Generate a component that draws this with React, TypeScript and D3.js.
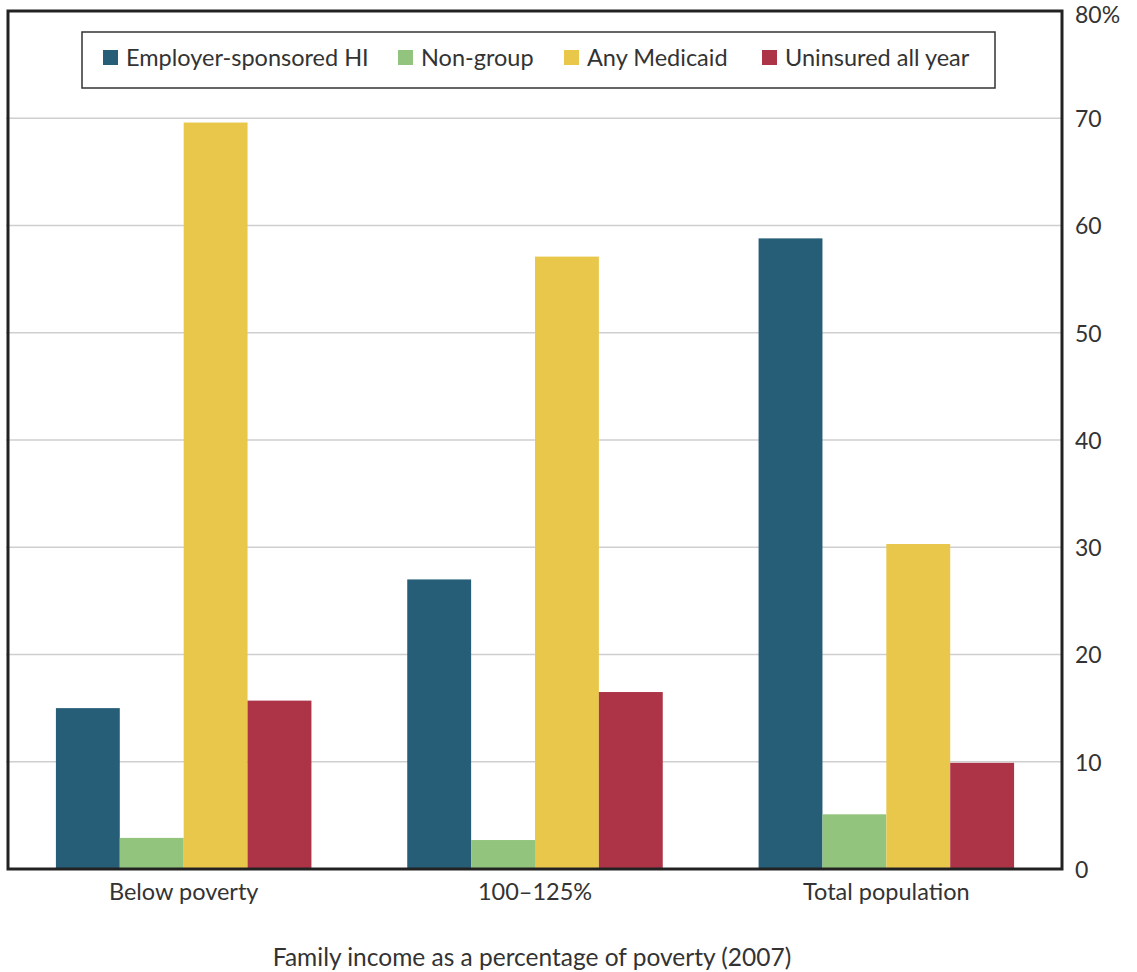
import React from "react";
import * as d3 from "d3";

const categories = ["Below poverty", "100–125%", "Total population"];
const seriesNames = ["Employer-sponsored HI", "Non-group", "Any Medicaid", "Uninsured all year"];
const employer = [15.0, 27.0, 58.8];
const nonGroup = [2.9, 2.7, 5.1];
const medicaid = [69.6, 57.1, 30.3];
const uninsured = [15.7, 16.5, 9.9];
const yTicks = [0, 10, 20, 30, 40, 50, 60, 70, 80];
const xTitle = "Family income as a percentage of poverty (2007)";

const colors = ["#265e78", "#93c47d", "#e9c74b", "#ad3346"];
const FONT = "Lato, 'Open Sans', sans-serif";

export default function App() {
  const width = 1137;
  const height = 972;
  const left = 8;
  const right = 1062;
  const top = 11;
  const bottom = 869;

  const series = [employer, nonGroup, medicaid, uninsured];

  const x0 = d3
    .scaleBand<string>()
    .domain(categories)
    .range([left, right])
    .paddingInner(3 / 11)
    .paddingOuter(1.5 / 11);
  const x1 = d3
    .scaleBand<string>()
    .domain(seriesNames)
    .range([0, x0.bandwidth()])
    .padding(0);
  const y = d3.scaleLinear().domain([0, 80]).range([bottom, top]);

  const legendX = [103, 398, 564, 762];

  return (
    <svg
      width={width}
      height={height}
      style={{ position: "absolute", left: 0, top: 0, background: "#fff" }}
      fontFamily={FONT}
    >
      <rect x={0} y={0} width={width} height={height} fill="#fff" />
      {/* gridlines */}
      {yTicks
        .filter((t) => t > 0 && t < 80)
        .map((t) => (
          <line
            key={t}
            x1={left - 2}
            x2={right}
            y1={y(t)}
            y2={y(t)}
            stroke="#cfcfcf"
            strokeWidth={1.5}
          />
        ))}
      {/* bars */}
      {categories.map((c, ci) => (
        <g key={c} transform={`translate(${x0(c)},0)`}>
          {seriesNames.map((s, si) => (
            <rect
              key={s}
              x={x1(s)!}
              y={y(series[si][ci])}
              width={x1.bandwidth()}
              height={bottom - y(series[si][ci])}
              fill={colors[si]}
            />
          ))}
        </g>
      ))}
      {/* frame */}
      <rect
        x={left}
        y={top}
        width={right - left}
        height={bottom - top}
        fill="none"
        stroke="#222"
        strokeWidth={3}
      />
      {/* y tick labels */}
      {yTicks.map((t) => (
        <text
          key={t}
          x={1075}
          y={y(t) + (t === 80 ? 6 : 3)}
          dominantBaseline="middle"
          fontSize={23}
          fill="#333"
        >
          {t === 80 ? "80%" : String(t)}
        </text>
      ))}
      {/* category labels */}
      {categories.map((c) => (
        <text
          key={c}
          x={x0(c)! + x0.bandwidth() / 2}
          y={900}
          textAnchor="middle"
          fontSize={23.5}
          fill="#333"
        >
          {c}
        </text>
      ))}
      <text x={532} y={966} textAnchor="middle" fontSize={24.5} fill="#333">
        {xTitle}
      </text>
      {/* legend */}
      <rect x={82} y={32} width={913} height={56} fill="#fff" stroke="#333" strokeWidth={1.5} />
      {seriesNames.map((s, i) => (
        <g key={s}>
          <rect x={legendX[i]} y={50} width={15} height={15} fill={colors[i]} />
          <text x={legendX[i] + 23} y={66} fontSize={23.5} fill="#333">
            {s}
          </text>
        </g>
      ))}
    </svg>
  );
}
